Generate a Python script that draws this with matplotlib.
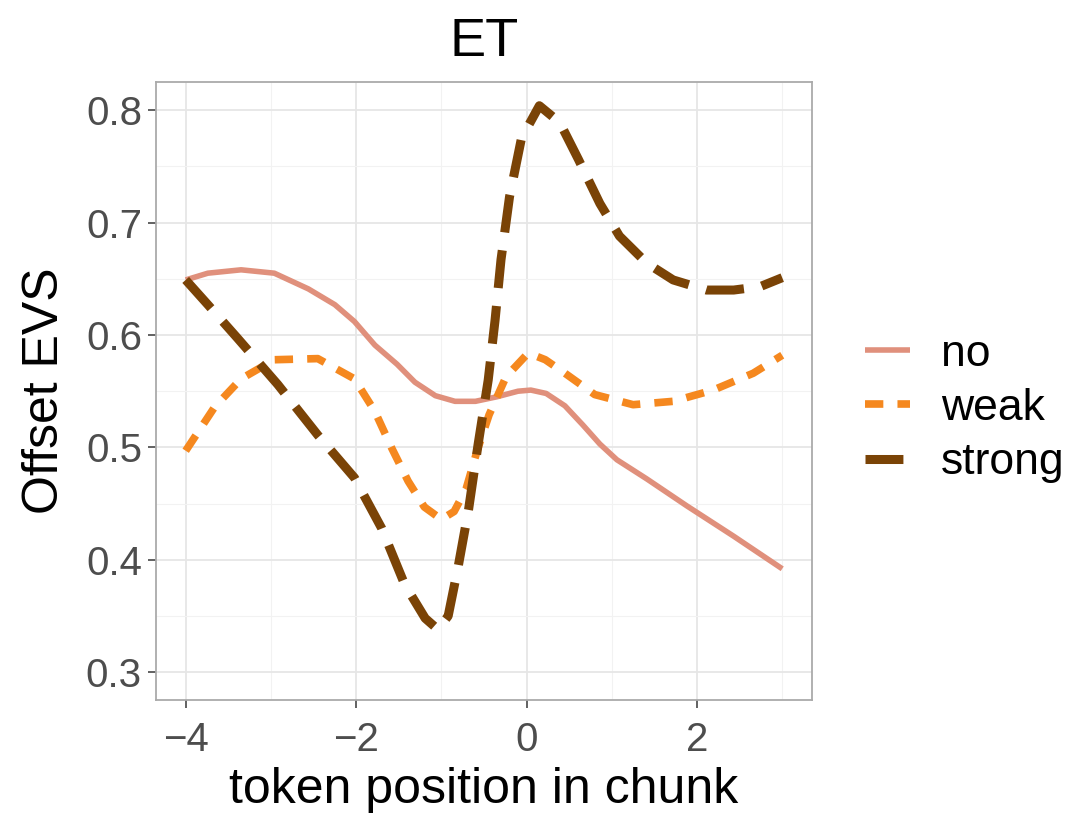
import matplotlib
matplotlib.use("Agg")
import matplotlib.pyplot as plt

plt.rcParams['font.family'] = ['Liberation Sans', 'DejaVu Sans']

# readings (token position, Offset EVS)
no_x = [-4.0, -3.74, -3.35, -2.96, -2.56, -2.25, -2.02, -1.78, -1.52, -1.31, -1.07, -0.84,
        -0.6, -0.35, -0.1, 0.05, 0.23, 0.45, 0.66, 0.86, 1.06, 1.41, 1.88, 2.43, 3.0]
no_y = [0.649, 0.655, 0.658, 0.655, 0.641, 0.627, 0.612, 0.591, 0.574, 0.558, 0.546, 0.541,
        0.541, 0.545, 0.550, 0.551, 0.548, 0.537, 0.520, 0.503, 0.489, 0.472, 0.448, 0.421, 0.392]

weak_x = [-4.0, -3.66, -3.35, -2.96, -2.45, -2.02, -1.78, -1.58, -1.39, -1.2, -1.0, -0.85,
          -0.71, -0.58, -0.44, -0.24, 0.02, 0.22, 0.45, 0.8, 1.25, 1.72, 2.19, 2.66, 3.0]
weak_y = [0.497, 0.536, 0.561, 0.578, 0.579, 0.561, 0.532, 0.499, 0.470, 0.447, 0.436, 0.443,
          0.463, 0.497, 0.529, 0.563, 0.584, 0.578, 0.566, 0.547, 0.538, 0.541, 0.551, 0.566, 0.582]

strong_x = [-4.0, -3.74, -3.39, -2.92, -2.45, -2.02, -1.70, -1.43, -1.19, -1.04, -0.92, -0.8,
            -0.68, -0.57, -0.45, -0.37, -0.30, -0.20, -0.06, 0.15, 0.39, 0.61, 0.86, 1.09,
            1.41, 1.72, 2.11, 2.43, 2.74, 3.0]
strong_y = [0.649, 0.627, 0.597, 0.556, 0.511, 0.473, 0.428, 0.378, 0.348, 0.338, 0.350, 0.395,
            0.445, 0.502, 0.560, 0.613, 0.667, 0.723, 0.775, 0.804, 0.789, 0.756, 0.717, 0.688,
            0.664, 0.649, 0.640, 0.640, 0.643, 0.651]

labels = ["no", "weak", "strong"]

fig = plt.figure(figsize=(10.9, 8.21), dpi=100)
ax = fig.add_axes([0.143, 0.147, 0.602, 0.753])

ax.plot(no_x, no_y, color="#E0907C", lw=4.0, solid_capstyle="butt",
        solid_joinstyle="round", label=labels[0])
ax.plot(weak_x, weak_y, color="#F5881F", lw=5.5, dashes=(2.4, 1.85), dash_capstyle="butt",
        dash_joinstyle="round", label=labels[1])
ax.plot(strong_x, strong_y, color="#7A4306", lw=6.5, dashes=(4.2, 2.0), dash_capstyle="butt",
        dash_joinstyle="round", label=labels[2])

ax.set_xlim(-4.35, 3.35)
ax.set_ylim(0.275, 0.825)
ax.set_xticks([-4, -2, 0, 2])
ax.set_xticklabels(["\u22124", "\u22122", "0", "2"])
ax.set_yticks([0.3, 0.4, 0.5, 0.6, 0.7, 0.8])
ax.set_xticks([-3, -1, 1, 3], minor=True)
ax.set_yticks([0.35, 0.45, 0.55, 0.65, 0.75], minor=True)
ax.grid(True, which="major", color="#E6E6E6", lw=1.3)
ax.grid(True, which="minor", color="#F2F2F2", lw=0.8)
ax.set_axisbelow(True)
ax.tick_params(which="major", labelsize=29, labelcolor="#4D4D4D", color="#555555",
               length=6, width=1.3, pad=4)
ax.tick_params(axis="x", which="major", pad=9)
ax.tick_params(which="minor", length=0)
for s in ax.spines.values():
    s.set_color("#AAAAAA")
    s.set_linewidth(1.3)

ax.set_title("ET", fontsize=39, pad=19)
ax.set_xlabel("token position in chunk", fontsize=36, labelpad=6)
ax.set_ylabel("Offset EVS", fontsize=36, labelpad=13)

ax.legend(loc="center left", bbox_to_anchor=(1.02, 0.472), frameon=False, fontsize=32,
          handlelength=1.0, handletextpad=0.7, labelspacing=0.3)

fig.savefig("out.png", dpi=100, facecolor="white")
